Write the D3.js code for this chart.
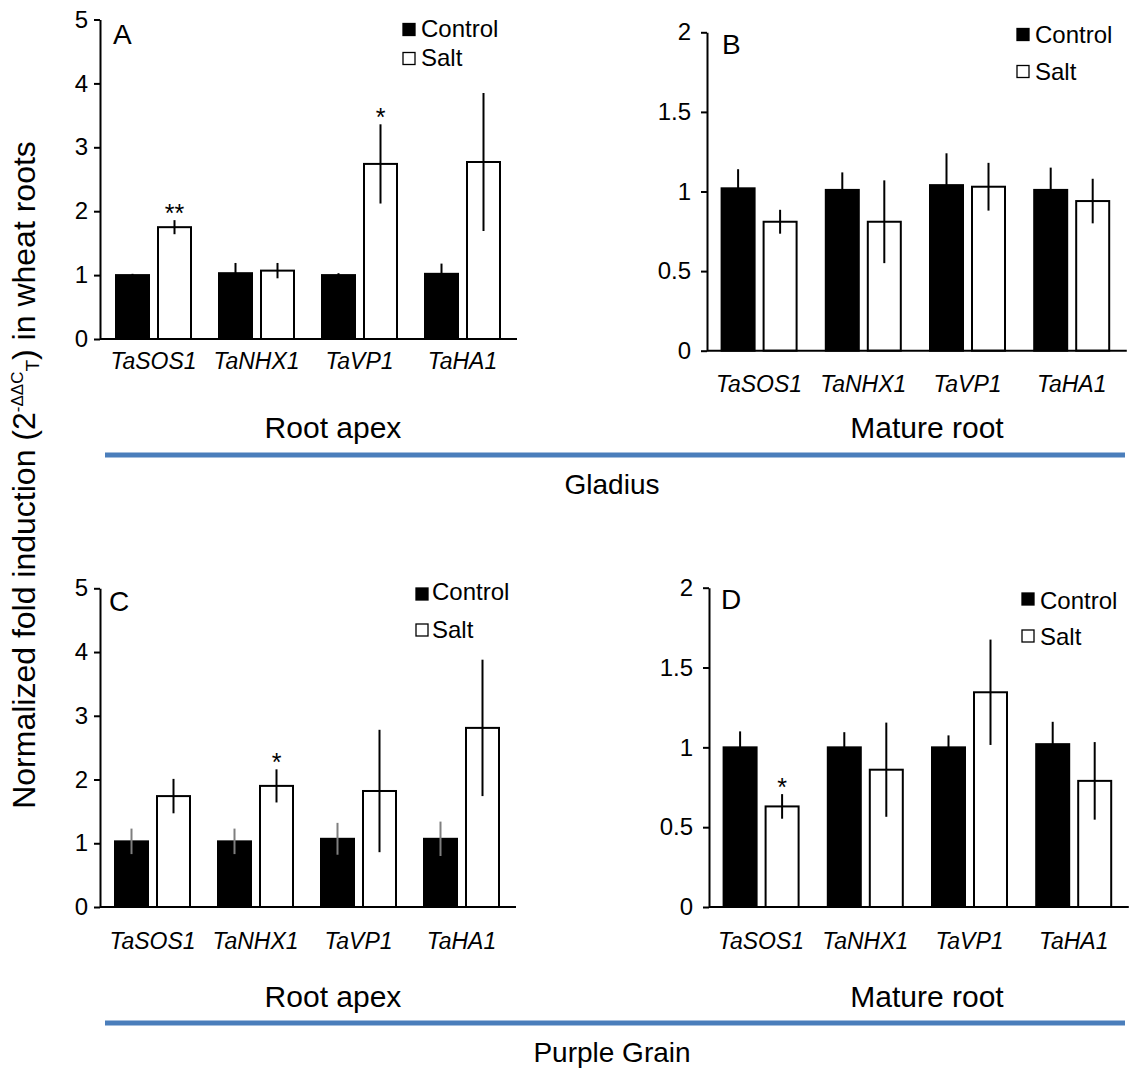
<!DOCTYPE html>
<html>
<head>
<meta charset="utf-8">
<script src="https://cdn.jsdelivr.net/npm/d3@7"></script>
<style>
  html, body { margin: 0; padding: 0; background: #fff; }
  svg { display: block; }
  text { font-family: "Liberation Sans", Arial, sans-serif; fill: #000; }
</style>
</head>
<body>
<svg id="chart" width="1146" height="1072"></svg>
<script>
// ---------------- DATA ----------------
const genes = ["TaSOS1", "TaNHX1", "TaVP1", "TaHA1"];
const seriesNames = ["Control", "Salt"];

const ticksRootApex = [0, 1, 2, 3, 4, 5];
const ticksMatureRoot = [0, 0.5, 1, 1.5, 2];
const tickLabelsRootApex = ["0", "1", "2", "3", "4", "5"];
const tickLabelsMatureRoot = ["0", "0.5", "1", "1.5", "2"];

// Panel A: Gladius, root apex
const aControl = [1.00, 1.03, 1.00, 1.02];
const aControlErr = [0.02, 0.16, 0.03, 0.16];
const aSalt = [1.75, 1.07, 2.74, 2.77];
const aSaltErr = [0.11, 0.12, 0.62, 1.08];
const aStars = ["**", "", "*", ""];

// Panel B: Gladius, mature root
const bControl = [1.02, 1.01, 1.04, 1.01];
const bControlErr = [0.12, 0.11, 0.20, 0.14];
const bSalt = [0.81, 0.81, 1.03, 0.94];
const bSaltErr = [0.075, 0.26, 0.15, 0.14];
const bStars = ["", "", "", ""];

// Panel C: Purple Grain, root apex
const cControl = [1.03, 1.03, 1.07, 1.07];
const cControlErr = [0.20, 0.20, 0.25, 0.27];
const cSalt = [1.74, 1.90, 1.82, 2.81];
const cSaltErr = [0.27, 0.26, 0.96, 1.07];
const cStars = ["", "*", "", ""];

// Panel D: Purple Grain, mature root
const dControl = [1.00, 1.00, 1.00, 1.02];
const dControlErr = [0.10, 0.095, 0.075, 0.14];
const dSalt = [0.63, 0.86, 1.345, 0.79];
const dSaltErr = [0.077, 0.295, 0.33, 0.243];
const dStars = ["*", "", "", ""];

const panelLetters = ["A", "B", "C", "D"];
const tissueLabels = ["Root apex", "Mature root"];
const cultivarLabels = ["Gladius", "Purple Grain"];

// ---------------- LAYOUT ----------------
const svg = d3.select("#chart");
const FONT = '"Liberation Sans", Arial, sans-serif';
const BLUE = "#4a7ebb";

const panels = [
  { letter: panelLetters[0], ctrl: aControl, ctrlErr: aControlErr, salt: aSalt, saltErr: aSaltErr, stars: aStars,
    ticks: ticksRootApex, tickLabels: tickLabelsRootApex, ymax: 5,
    x0: 100, step: 103, bandOff: 2, yB: 339, yT: 19.5, geneY: 369, tickGap: 12,
    letterPos: [113, 44], ctrlErrColor: "#000",
    leg: { sqX: 403, ctrlY: 23.5, saltY: 52.5, textX: 421, ctrlBase: 37, saltBase: 66 } },
  { letter: panelLetters[1], ctrl: bControl, ctrlErr: bControlErr, salt: bSalt, saltErr: bSaltErr, stars: bStars,
    ticks: ticksMatureRoot, tickLabels: tickLabelsMatureRoot, ymax: 2,
    x0: 707, step: 104.2, bandOff: 0, yB: 350.7, yT: 32.3, geneY: 392, tickGap: 16,
    letterPos: [722, 54], ctrlErrColor: "#000",
    leg: { sqX: 1017, ctrlY: 28.5, saltY: 65.5, textX: 1035, ctrlBase: 43, saltBase: 80 } },
  { letter: panelLetters[2], ctrl: cControl, ctrlErr: cControlErr, salt: cSalt, saltErr: cSaltErr, stars: cStars,
    ticks: ticksRootApex, tickLabels: tickLabelsRootApex, ymax: 5,
    x0: 100, step: 103, bandOff: 1, yB: 907, yT: 588.3, geneY: 949, tickGap: 12,
    letterPos: [109, 611], ctrlErrColor: "#7f7f7f",
    leg: { sqX: 416, ctrlY: 588, saltY: 624, textX: 432, ctrlBase: 600, saltBase: 638 } },
  { letter: panelLetters[3], ctrl: dControl, ctrlErr: dControlErr, salt: dSalt, saltErr: dSaltErr, stars: dStars,
    ticks: ticksMatureRoot, tickLabels: tickLabelsMatureRoot, ymax: 2,
    x0: 709, step: 104.2, bandOff: 0, yB: 907, yT: 587.7, geneY: 949, tickGap: 16,
    letterPos: [721, 609], ctrlErrColor: "#000",
    leg: { sqX: 1022, ctrlY: 593, saltY: 630, textX: 1040, ctrlBase: 609, saltBase: 645 } }
];

function drawPanel(p) {
  const g = svg.append("g");
  const bandStart = p.x0 + p.bandOff;
  const x = d3.scaleBand().domain(genes).range([bandStart, bandStart + p.step * genes.length]).padding(0);
  const step = x.bandwidth();
  const inner = d3.scaleBand().domain(seriesNames)
    .range([step / 2 - 37.5, step / 2 + 37.5]).paddingInner(9 / 42).paddingOuter(0);
  const y = d3.scaleLinear().domain([0, p.ymax]).range([p.yB, p.yT]);

  const rows = genes.map((gname, i) => ({
    gene: gname,
    vals: [
      { s: "Control", v: p.ctrl[i], e: p.ctrlErr[i] },
      { s: "Salt", v: p.salt[i], e: p.saltErr[i] }
    ],
    star: p.stars[i]
  }));

  const grp = g.selectAll("g.grp").data(rows).join("g")
    .attr("transform", d => `translate(${x(d.gene)},0)`);

  grp.selectAll("rect").data(d => d.vals).join("rect")
    .attr("x", d => inner(d.s))
    .attr("width", inner.bandwidth())
    .attr("y", d => y(d.v))
    .attr("height", d => y(0) - y(d.v))
    .attr("fill", d => d.s === "Control" ? "#000" : "#fff")
    .attr("stroke", "#000")
    .attr("stroke-width", 2);

  grp.selectAll("line.err").data(d => d.vals).join("line")
    .attr("class", "err")
    .attr("x1", d => inner(d.s) + inner.bandwidth() / 2)
    .attr("x2", d => inner(d.s) + inner.bandwidth() / 2)
    .attr("y1", d => y(d.v + d.e))
    .attr("y2", d => y(Math.max(0, d.v - d.e)))
    .attr("stroke", d => d.s === "Control" ? p.ctrlErrColor : "#000")
    .attr("stroke-width", 2);

  grp.filter(d => d.star).append("text")
    .attr("x", inner("Salt") + inner.bandwidth() / 2)
    .attr("y", d => y(d.vals[1].v + d.vals[1].e) + 2)
    .attr("text-anchor", "middle")
    .style("font-size", "25px")
    .text(d => d.star);

  // y axis
  const yAxis = d3.axisLeft(y).tickValues(p.ticks)
    .tickFormat((d, i) => p.tickLabels[i]).tickSize(6).tickSizeOuter(0).tickPadding(p.tickGap - 6);
  const ya = g.append("g").attr("transform", `translate(${p.x0},0)`).call(yAxis);
  ya.select(".domain").attr("stroke", "#000").attr("stroke-width", 2);
  ya.selectAll(".tick line").attr("stroke", "#000").attr("stroke-width", 2);
  ya.selectAll(".tick text").style("font-size", "24px").style("font-family", FONT).attr("fill", "#000");

  // x axis
  const xAxis = d3.axisBottom(x).tickSize(0).tickSizeOuter(0).tickFormat(() => "");
  const xa = g.append("g").attr("transform", `translate(0,${p.yB})`).call(xAxis);
  xa.select(".domain").attr("stroke", "#000").attr("stroke-width", 2)
    .attr("d", `M${p.x0},0H${bandStart + p.step * genes.length + 3}`);

  // gene labels
  g.selectAll("text.gene").data(genes).join("text")
    .attr("class", "gene")
    .attr("x", d => x(d) + step / 2)
    .attr("y", p.geneY)
    .attr("text-anchor", "middle")
    .style("font-size", "23px")
    .style("font-style", "italic")
    .text(d => d);

  // panel letter
  g.append("text").attr("x", p.letterPos[0]).attr("y", p.letterPos[1])
    .style("font-size", "28px").text(p.letter);

  // legend
  const L = p.leg;
  const leg = [
    { name: seriesNames[0], y: L.ctrlY, base: L.ctrlBase, fill: "#000" },
    { name: seriesNames[1], y: L.saltY, base: L.saltBase, fill: "#fff" }
  ];
  g.selectAll("rect.leg").data(leg).join("rect").attr("class", "leg")
    .attr("x", L.sqX).attr("y", d => d.y).attr("width", 12).attr("height", 12)
    .attr("fill", d => d.fill).attr("stroke", "#000").attr("stroke-width", 1.3);
  g.selectAll("text.leg").data(leg).join("text").attr("class", "leg")
    .attr("x", L.textX).attr("y", d => d.base)
    .style("font-size", "24px").text(d => d.name);
}

panels.forEach(drawPanel);

// tissue labels, cultivar separators
const sections = [
  { tissueY: 438, lineY: 455, cultY: 494, cult: cultivarLabels[0] },
  { tissueY: 1007, lineY: 1023, cultY: 1062, cult: cultivarLabels[1] }
];
sections.forEach(s => {
  svg.append("text").attr("x", 333).attr("y", s.tissueY).attr("text-anchor", "middle")
    .style("font-size", "30px").text(tissueLabels[0]);
  svg.append("text").attr("x", 927).attr("y", s.tissueY).attr("text-anchor", "middle")
    .style("font-size", "30px").text(tissueLabels[1]);
  svg.append("line").attr("x1", 105).attr("x2", 1125).attr("y1", s.lineY).attr("y2", s.lineY)
    .attr("stroke", BLUE).attr("stroke-width", 5);
  svg.append("text").attr("x", 612).attr("y", s.cultY).attr("text-anchor", "middle")
    .style("font-size", "28px").text(s.cult);
});

// y axis title
const yt = svg.append("text")
  .attr("transform", "translate(35,475) rotate(-90)")
  .attr("text-anchor", "middle")
  .style("font-size", "32px");
yt.append("tspan").text("Normalized fold induction (2");
yt.append("tspan").attr("dy", -12).style("font-size", "17px").text("-ΔΔC");
yt.append("tspan").attr("dy", 16).style("font-size", "19px").text("T");
yt.append("tspan").attr("dy", -4).text(") in wheat roots");
</script>
</body>
</html>
